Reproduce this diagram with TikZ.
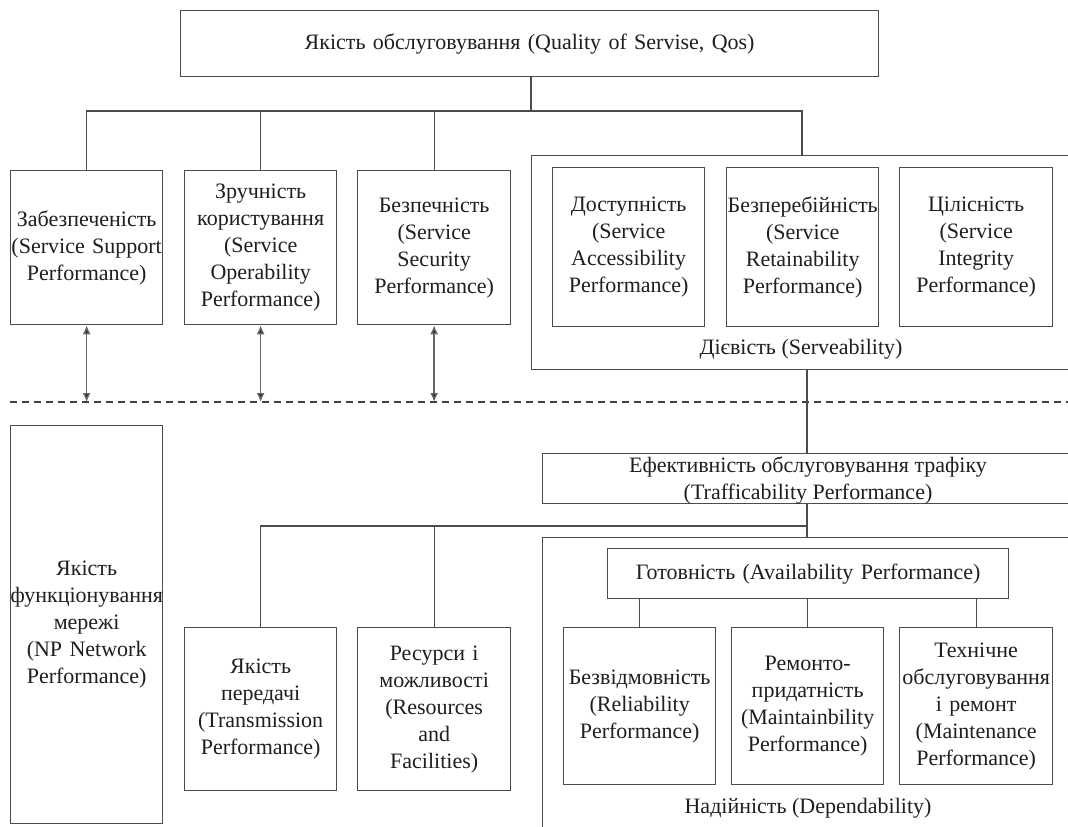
\documentclass[tikz,border=0pt]{standalone}
\usepackage{fontspec}
\setmainfont{Liberation Serif}
\usetikzlibrary{arrows.meta}
\begin{document}
\begin{tikzpicture}[x=1pt,y=-1pt,
  ln/.style={draw=black!70, line width=1.3pt},
  txt/.style={font=\fontsize{22pt}{27pt}\selectfont, text=black!88, align=center, inner sep=0pt},
  box/.style={ln, txt, anchor=north west},
  dl/.style={draw=black!75, line width=1.6pt, dash pattern=on 7pt off 5pt},
  dbl/.style={draw=black!60, line width=1.4pt, {Latex[length=9pt,width=8pt,fill=black!85]}-{Latex[length=9pt,width=8pt,fill=black!85]}}]
\path[use as bounding box] (0,0) rectangle (1068,827);
\clip (0,0) rectangle (1068,827);
\fill[white] (0,0) rectangle (1068,827);

% top
\node[box, text width=698pt, minimum height=66pt] (top) at (180,10) {Якість обслуговування (Quality of Servise, Qos)};

% first row
\node[box, text width=152pt, minimum height=154pt] (b1) at (10,170) {Забезпеченість\\(Service Support\\Performance)\\[6pt]};
\node[box, text width=152pt, minimum height=154pt] (b2) at (184,170) {Зручність\\користування\\(Service\\Operability\\Performance)};
\node[box, text width=153pt, minimum height=154pt] (b3) at (357,170) {Безпечність\\(Service\\Security\\Performance)\\[4pt]};

% serveability
\node[box, minimum width=620pt, minimum height=214pt] (sv) at (531,155) {};
\node[box, text width=152pt, minimum height=159pt] (s1) at (552,167) {Доступність\\(Service\\Accessibility\\Performance)};
\node[box, text width=152pt, minimum height=159pt] (s2) at (726,167) {Безперебійність\\(Service\\Retainability\\Performance)};
\node[box, text width=153pt, minimum height=159pt] (s3) at (899,167) {Цілісність\\(Service\\Integrity\\Performance)};
\node[txt] (svl) at (801,349) {Дієвість (Serveability)};

% junctions
\coordinate (bus1) at (531,111);
\coordinate (sd) at (802,155);
\coordinate (cx) at (807,0);
\coordinate (bus2) at (807,526);
\coordinate (d0) at (10,402);
\coordinate (d1) at (1068,402);

\draw[ln] (top.south -| bus1) -- (bus1);
\draw[ln] (b1.north) -- (b1.north |- bus1) -| (sd);
\draw[ln] (b2.north) -- (b2.north |- bus1);
\draw[ln] (b3.north) -- (b3.north |- bus1);

% dashed divider and arrows
\draw[dl] (d0) -- (d1);
\draw[dbl] (b1.south) -- (b1.south |- d0);
\draw[dbl] (b2.south) -- (b2.south |- d0);
\draw[dbl] (b3.south) -- (b3.south |- d0);

% network performance
\node[box, text width=152pt, minimum height=398pt] (np) at (10,425) {Якість\\функціонування\\мережі\\(NP Network\\Performance)};

% trafficability
\node[box, minimum width=600pt, minimum height=50pt] (tr) at (542,453) {};
\node[txt] (trt) at (808,480) {Ефективність обслуговування трафіку\\(Trafficability Performance)};
\draw[ln] (cx |- sv.south) -- (cx |- tr.north);

% lower-left boxes
\node[box, text width=152pt, minimum height=163pt] (tp) at (184,627) {Якість\\передачі\\(Transmission\\Performance)};
\node[box, text width=153pt, minimum height=163pt] (rs) at (357,627) {Ресурси і\\можливості\\(Resources\\and\\Facilities)\\[-8pt]};

% dependability
\node[box, minimum width=600pt, minimum height=400pt] (dp) at (542,537) {};
\draw[ln] (cx |- tr.south) -- (cx |- dp.north);
\draw[ln] (tp.north) |- (bus2);
\draw[ln] (rs.north) -- (rs.north |- bus2);

\node[box, text width=401pt, minimum height=50pt] (av) at (607,548) {Готовність (Availability Performance)};
\node[box, text width=152pt, minimum height=157pt] (r1) at (563,627) {Безвідмовність\\(Reliability\\Performance)\\[6pt]};
\node[box, text width=152pt, minimum height=157pt] (r2) at (731,627) {Ремонто-\\придатність\\(Maintainbility\\Performance)};
\node[box, text width=153pt, minimum height=157pt] (r3) at (899,627) {Технічне\\обслуговування\\і ремонт\\(Maintenance\\Performance)};
\draw[ln] (r1.north) -- (r1.north |- av.south);
\draw[ln] (r2.north) -- (r2.north |- av.south);
\draw[ln] (r3.north) -- (r3.north |- av.south);
\node[txt] (dpl) at (808,808) {Надійність (Dependability)};
\end{tikzpicture}
\end{document}
